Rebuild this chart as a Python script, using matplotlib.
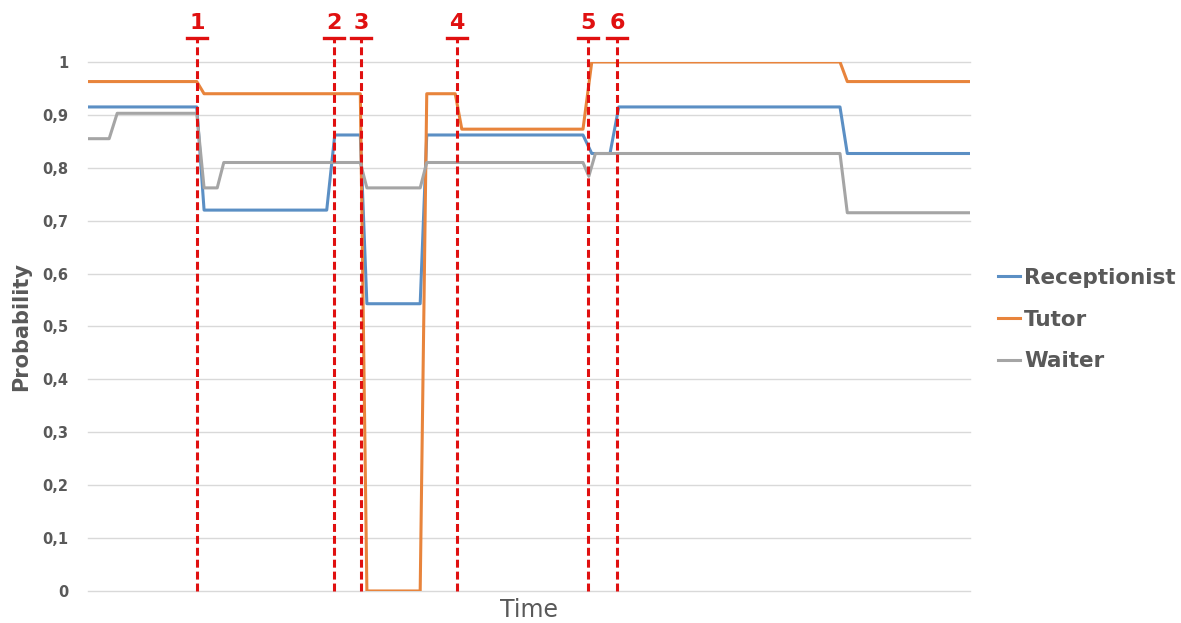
import matplotlib
matplotlib.use("Agg")
import matplotlib.pyplot as plt

# role probabilities over time (vertices of each step curve)
recep_t = [0, 14.9, 15.9, 32.7, 33.8, 37.3, 38.2, 45.5, 46.4, 67.8, 69.0, 71.5, 72.7, 103.0, 104.0, 120.8]
recep_p = [0.915, 0.915, 0.72, 0.72, 0.862, 0.862, 0.543, 0.543, 0.862, 0.862, 0.827, 0.827, 0.915, 0.915, 0.827, 0.827]

tutor_t = [0, 14.9, 15.9, 37.3, 38.2, 45.5, 46.4, 50.3, 51.2, 67.8, 69.0, 103.0, 104.0, 120.8]
tutor_p = [0.963, 0.963, 0.94, 0.94, 0.0, 0.0, 0.94, 0.94, 0.873, 0.873, 1.0, 1.0, 0.963, 0.963]

waiter_t = [0, 2.9, 4.0, 14.9, 15.9, 17.7, 18.6, 37.3, 38.2, 45.5, 46.4, 67.8, 68.6, 69.5, 103.0, 104.0, 120.8]
waiter_p = [0.855, 0.855, 0.903, 0.903, 0.762, 0.762, 0.81, 0.81, 0.762, 0.762, 0.81, 0.81, 0.784, 0.827, 0.827, 0.715, 0.715]

# event markers
event_t = [14.9, 33.7, 37.4, 50.5, 68.5, 72.5]
event_lbl = ["1", "2", "3", "4", "5", "6"]

TXT = "#595959"
RED = "#e01010"

fig = plt.figure(figsize=(11.81, 6.23), dpi=100)
ax = fig.add_axes([0.0745, 0.0514, 0.7468, 0.8491])

ax.plot(recep_t, recep_p, color="#5b8fc4", lw=2.2, label="Receptionist", zorder=3)
ax.plot(tutor_t, tutor_p, color="#e8843c", lw=2.2, label="Tutor", zorder=3)
ax.plot(waiter_t, waiter_p, color="#a5a5a5", lw=2.2, label="Waiter", zorder=3)

ax.set_xlim(0, 120.8)
ax.set_ylim(0, 1)
ax.set_yticks([i / 10 for i in range(11)])
ax.set_yticklabels(["0"] + [f"0,{i}" for i in range(1, 10)] + ["1"],
                   fontsize=10.5, fontweight="bold", color=TXT)
ax.set_xticks([])
ax.tick_params(axis="y", length=0, pad=14)
ax.grid(axis="y", color="#d9d9d9", lw=1)
for g in ax.get_ygridlines():
    g.set_clip_on(False)
for s in ax.spines.values():
    s.set_visible(False)
ax.set_axisbelow(True)

ax.set_ylabel("Probability", fontsize=15, fontweight="bold", color=TXT, labelpad=8)
ax.set_xlabel("Time", fontsize=17, color=TXT, labelpad=5)

top = 1.045
for t, lbl in zip(event_t, event_lbl):
    ax.plot([t, t], [0, top], color=RED, lw=2.2, ls=(0, (2.6, 1.3)), clip_on=False, zorder=4)
    ax.plot([t - 1.35, t + 1.35], [top, top], color=RED, lw=2.4, clip_on=False, zorder=4)
    ax.text(t, top + 0.01, lbl, color=RED, fontsize=16, fontweight="bold",
            ha="center", va="bottom", clip_on=False)

leg = ax.legend(loc="upper left", bbox_to_anchor=(1.01, 0.648), frameon=False,
                handlelength=1.0, handletextpad=0.2, labelspacing=1.02,
                prop={"size": 15.5, "weight": "bold"})
for txt in leg.get_texts():
    txt.set_color(TXT)

fig.savefig("out.png", dpi=100)
